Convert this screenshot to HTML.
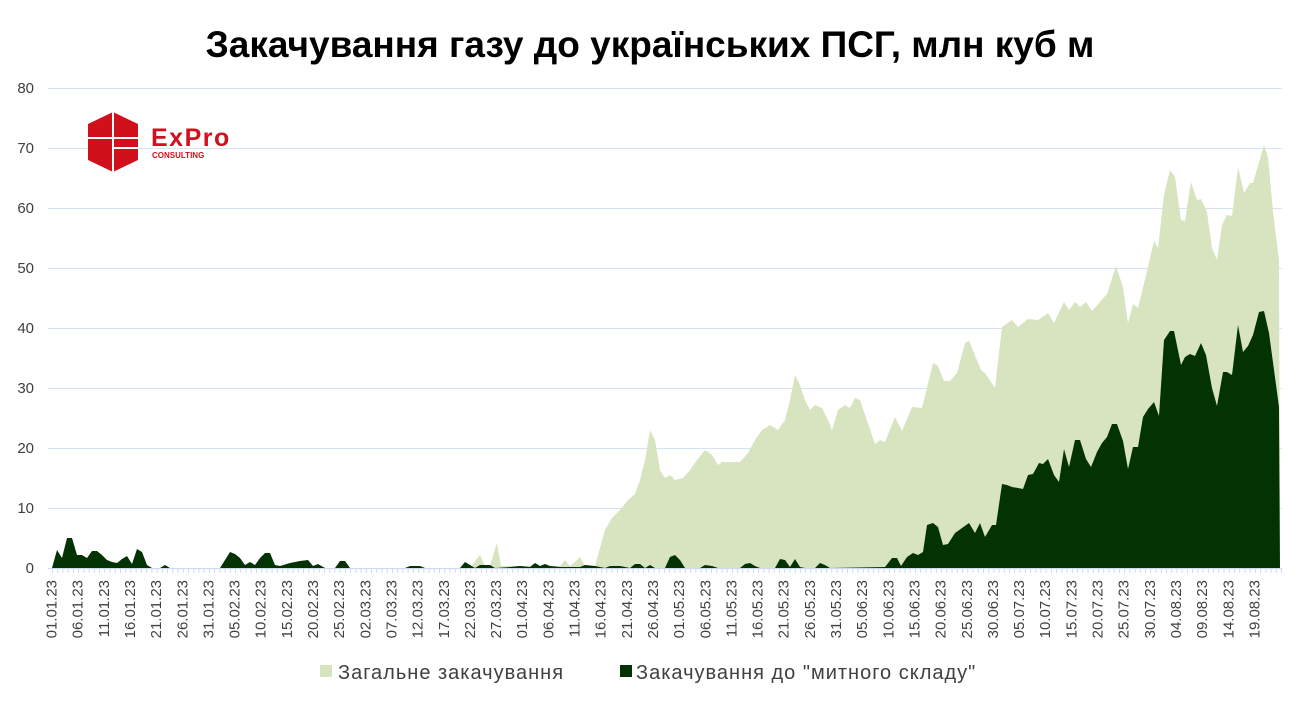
<!DOCTYPE html>
<html><head><meta charset="utf-8"><style>
body{margin:0;background:#fff;}
svg text{font-family:"Liberation Sans",sans-serif;}
</style></head><body>
<svg width="1300" height="704" xmlns="http://www.w3.org/2000/svg">
<defs><pattern id="tk" x="52" y="568" width="5.23" height="6" patternUnits="userSpaceOnUse"><line x1="0.5" y1="0" x2="0.5" y2="6" stroke="#c9d9ee" stroke-width="1"/></pattern></defs>
<rect width="1300" height="704" fill="#fff"/>
<text x="650" y="57" text-anchor="middle" font-size="37" font-weight="bold" fill="#000">Закачування газу до українських ПСГ, млн куб м</text>
<g stroke="#d6e2f0" stroke-width="1">
<line x1="48" x2="1282" y1="88.5" y2="88.5"/><line x1="48" x2="1282" y1="148.5" y2="148.5"/>
<line x1="48" x2="1282" y1="208.5" y2="208.5"/><line x1="48" x2="1282" y1="268.5" y2="268.5"/>
<line x1="48" x2="1282" y1="328.5" y2="328.5"/><line x1="48" x2="1282" y1="388.5" y2="388.5"/>
<line x1="48" x2="1282" y1="448.5" y2="448.5"/><line x1="48" x2="1282" y1="508.5" y2="508.5"/>
</g>
<g font-size="15" fill="#404040" text-anchor="end">
<text x="34" y="93">80</text><text x="34" y="153">70</text><text x="34" y="213">60</text><text x="34" y="273">50</text>
<text x="34" y="333">40</text><text x="34" y="393">30</text><text x="34" y="453">20</text><text x="34" y="513">10</text><text x="34" y="573">0</text>
</g>
<polygon fill="#d8e4c0" points="52,568 470,568 476,560 480,555 485,566 490,566 494,552 497,543 501,566 560,566 565,560 570,566 575,562 580,557 585,566 595,566 600,548 605,530 612,518 620,510 628,500 635,494 640,480 645,460 650,430 655,440 660,470 665,478 670,475 675,480 683,478 690,470 697,460 705,450 712,455 718,465 722,462 730,462 740,462 748,453 755,440 762,430 770,425 778,430 785,420 790,400 795,375 800,385 805,400 810,410 815,405 822,408 828,420 832,430 838,410 845,405 850,408 855,398 860,400 875,444 880,440 885,442 895,417 902,431 912,407 922,408 933,363 938,366 944,381 950,381 957,373 965,343 969,341 981,370 985,373 995,388 1002,327 1012,320 1018,327 1028,319 1038,320 1048,313 1054,323 1064,302 1069,310 1075,302 1080,307 1086,302 1092,311 1107,294 1116,266 1123,287 1128,323 1133,304 1138,308 1148,267 1154,241 1158,248 1164,195 1170,170 1175,177 1181,220 1185,221 1191,182 1197,200 1201,199 1207,212 1212,248 1217,260 1222,225 1227,215 1232,216 1238,167 1244,193 1250,183 1253,183 1264,145 1268,157 1273,212 1279,260 1280,568"/>
<polygon fill="#033303" points="52,568 57,550 62,558 67,538 72,538 77,555 82,555 87,558 92,551 97,551 102,555 107,560 112,562 117,563 122,559 127,556 132,564 137,549 142,552 147,565 152,568 160,568 165,565 170,568 220,568 225,560 230,552 235,554 240,558 245,565 250,562 255,565 260,558 265,553 270,553 275,565 280,566 290,563 300,561 308,560 313,566 318,564 325,568 335,568 340,561 345,561 350,568 405,568 410,566 420,566 425,568 460,568 465,562 470,565 475,568 480,565 490,565 495,568 510,567 520,566 530,567 535,563 540,566 545,564 550,566 560,567 580,567 585,565 595,566 605,568 610,566 620,566 630,568 635,564 640,564 645,568 650,565 655,568 665,568 670,557 675,555 680,560 685,568 700,568 705,565 712,566 718,568 740,568 745,564 750,563 755,566 760,568 775,568 780,559 785,560 790,567 795,559 800,567 805,568 815,568 820,563 825,565 830,568 885,567 892,558 897,558 901,566 907,557 913,553 918,555 923,552 927,525 933,523 938,527 943,545 948,544 955,533 962,528 969,523 975,533 980,523 985,537 992,525 996,525 1002,484 1007,485 1012,487 1018,488 1023,489 1028,475 1033,474 1039,463 1043,464 1048,459 1054,475 1059,482 1064,449 1069,467 1075,440 1080,440 1086,459 1091,467 1097,452 1102,443 1107,437 1112,424 1117,424 1123,441 1128,469 1133,447 1138,447 1143,417 1148,409 1154,402 1159,416 1164,340 1170,331 1174,331 1181,365 1185,357 1190,354 1195,356 1201,343 1206,355 1212,388 1217,406 1223,372 1227,372 1232,375 1238,325 1243,352 1248,346 1253,335 1259,312 1264,311 1269,333 1274,370 1279,407 1280,568"/>
<rect x="50" y="568" width="1232" height="5" fill="url(#tk)"/>
<line x1="48" x2="1282" y1="568.5" y2="568.5" stroke="#c9d9ee"/>
<g font-size="15" fill="#404040" text-anchor="end">
<text transform="translate(56.5,580) rotate(-90)">01.01.23</text>
<text transform="translate(82.65,580) rotate(-90)">06.01.23</text>
<text transform="translate(108.8,580) rotate(-90)">11.01.23</text>
<text transform="translate(134.95,580) rotate(-90)">16.01.23</text>
<text transform="translate(161.1,580) rotate(-90)">21.01.23</text>
<text transform="translate(187.25,580) rotate(-90)">26.01.23</text>
<text transform="translate(213.4,580) rotate(-90)">31.01.23</text>
<text transform="translate(239.55,580) rotate(-90)">05.02.23</text>
<text transform="translate(265.7,580) rotate(-90)">10.02.23</text>
<text transform="translate(291.85,580) rotate(-90)">15.02.23</text>
<text transform="translate(318,580) rotate(-90)">20.02.23</text>
<text transform="translate(344.15,580) rotate(-90)">25.02.23</text>
<text transform="translate(370.3,580) rotate(-90)">02.03.23</text>
<text transform="translate(396.45,580) rotate(-90)">07.03.23</text>
<text transform="translate(422.6,580) rotate(-90)">12.03.23</text>
<text transform="translate(448.75,580) rotate(-90)">17.03.23</text>
<text transform="translate(474.9,580) rotate(-90)">22.03.23</text>
<text transform="translate(501.05,580) rotate(-90)">27.03.23</text>
<text transform="translate(527.2,580) rotate(-90)">01.04.23</text>
<text transform="translate(553.35,580) rotate(-90)">06.04.23</text>
<text transform="translate(579.5,580) rotate(-90)">11.04.23</text>
<text transform="translate(605.65,580) rotate(-90)">16.04.23</text>
<text transform="translate(631.8,580) rotate(-90)">21.04.23</text>
<text transform="translate(657.95,580) rotate(-90)">26.04.23</text>
<text transform="translate(684.1,580) rotate(-90)">01.05.23</text>
<text transform="translate(710.25,580) rotate(-90)">06.05.23</text>
<text transform="translate(736.4,580) rotate(-90)">11.05.23</text>
<text transform="translate(762.55,580) rotate(-90)">16.05.23</text>
<text transform="translate(788.7,580) rotate(-90)">21.05.23</text>
<text transform="translate(814.85,580) rotate(-90)">26.05.23</text>
<text transform="translate(841,580) rotate(-90)">31.05.23</text>
<text transform="translate(867.15,580) rotate(-90)">05.06.23</text>
<text transform="translate(893.3,580) rotate(-90)">10.06.23</text>
<text transform="translate(919.45,580) rotate(-90)">15.06.23</text>
<text transform="translate(945.6,580) rotate(-90)">20.06.23</text>
<text transform="translate(971.75,580) rotate(-90)">25.06.23</text>
<text transform="translate(997.9,580) rotate(-90)">30.06.23</text>
<text transform="translate(1024.05,580) rotate(-90)">05.07.23</text>
<text transform="translate(1050.2,580) rotate(-90)">10.07.23</text>
<text transform="translate(1076.35,580) rotate(-90)">15.07.23</text>
<text transform="translate(1102.5,580) rotate(-90)">20.07.23</text>
<text transform="translate(1128.65,580) rotate(-90)">25.07.23</text>
<text transform="translate(1154.8,580) rotate(-90)">30.07.23</text>
<text transform="translate(1180.95,580) rotate(-90)">04.08.23</text>
<text transform="translate(1207.1,580) rotate(-90)">09.08.23</text>
<text transform="translate(1233.25,580) rotate(-90)">14.08.23</text>
<text transform="translate(1259.4,580) rotate(-90)">19.08.23</text>
</g>
<polygon points="113,112 138,124 138,160 113,172 88,160 88,124" fill="#d0111b"/>
<line x1="88" y1="138" x2="138" y2="138" stroke="#fff" stroke-width="2"/>
<line x1="113" y1="112" x2="113" y2="172" stroke="#fff" stroke-width="2"/>
<line x1="113" y1="148" x2="138" y2="148" stroke="#fff" stroke-width="2"/>
<text x="151" y="146" font-size="25" fill="#d0111b" font-weight="bold" letter-spacing="1.5">ExPro</text>
<text x="152" y="158" font-size="8" fill="#d0111b" font-weight="bold">CONSULTING</text>
<rect x="320" y="665" width="12" height="12" fill="#d8e4c0"/>
<text x="338" y="679" font-size="20" letter-spacing="1" fill="#404040">Загальне закачування</text>
<rect x="620" y="665" width="12" height="12" fill="#033303"/>
<text x="636" y="679" font-size="20" letter-spacing="1" fill="#404040">Закачування до "митного складу"</text>
</svg>
</body></html>
